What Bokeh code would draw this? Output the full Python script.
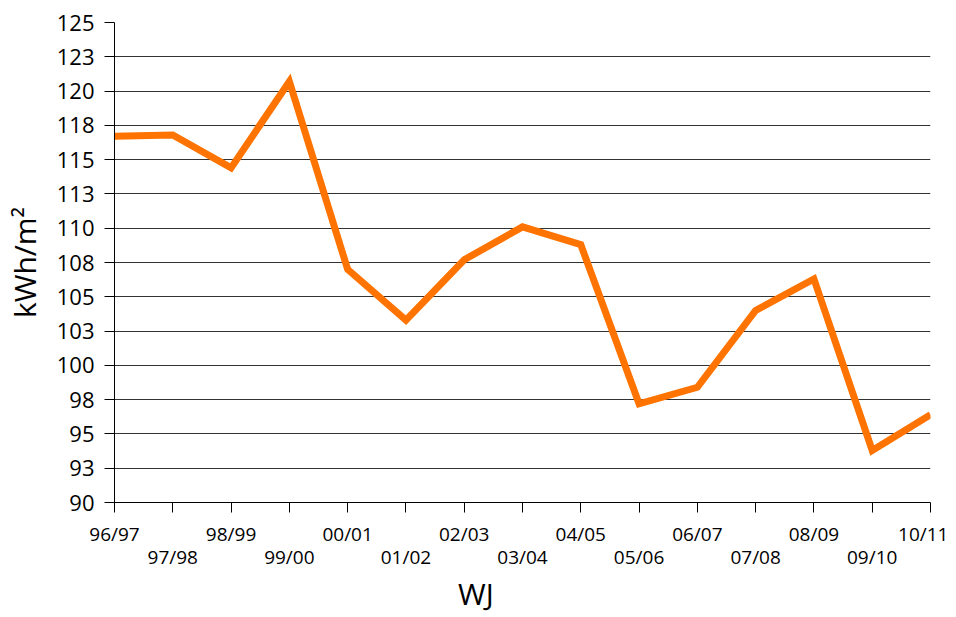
from bokeh.plotting import figure
from bokeh.models import Range1d, FixedTicker, LinearAxis
from bokeh.embed import file_html
from bokeh.resources import INLINE

# ---- data ----
years = ["96/97", "97/98", "98/99", "99/00", "00/01", "01/02", "02/03", "03/04",
         "04/05", "05/06", "06/07", "07/08", "08/09", "09/10", "10/11"]
values = [116.7, 116.8, 114.4, 120.7, 107.0, 103.3, 107.7, 110.1,
          108.8, 97.2, 98.4, 104.0, 106.3, 93.8, 96.4]
y_ticks = [90, 92.5, 95, 97.5, 100, 102.5, 105, 107.5, 110, 112.5, 115, 117.5, 120, 122.5, 125]
y_tick_labels = ["90", "93", "95", "98", "100", "103", "105", "108", "110",
                 "113", "115", "118", "120", "123", "125"]
y_title = "kWh/m²"
x_title = "WJ"

FONT = "Open Sans"
ORANGE = "#ff7300"

x_pos = list(range(len(years)))

p = figure(width=948, height=617,
           x_range=Range1d(0, len(years) - 1), y_range=Range1d(y_ticks[0], y_ticks[-1]),
           output_backend="svg", toolbar_location=None,
           x_axis_location=None,
           min_border_left=113, min_border_right=18,
           min_border_top=22, min_border_bottom=115)
p.outline_line_color = None
p.background_fill_color = "white"
p.border_fill_color = "white"

# y axis
yax = p.yaxis[0]
yax.ticker = FixedTicker(ticks=y_ticks)
yax.major_label_overrides = {t: l for t, l in zip(y_ticks, y_tick_labels)}
yax.major_tick_out = 10
yax.major_tick_in = 0
yax.minor_tick_line_color = None
yax.axis_line_color = "black"
yax.major_tick_line_color = "black"
yax.major_label_text_font = FONT
yax.major_label_text_font_size = "22px"
yax.major_label_text_color = "black"
yax.major_label_standoff = 10
yax.axis_label = y_title
yax.axis_label_text_font = FONT
yax.axis_label_text_font_size = "30px"
yax.axis_label_text_font_style = "normal"
yax.axis_label_text_color = "black"
yax.axis_label_standoff = 9

p.ygrid.ticker = FixedTicker(ticks=y_ticks)
p.ygrid.grid_line_color = "#333333"
p.ygrid.grid_line_width = 1
p.xgrid.visible = False

# x axis, row 1 (even labels, with ticks)
ax1 = LinearAxis(ticker=FixedTicker(ticks=x_pos))
ax1.major_label_overrides = {i: (years[i] if i % 2 == 0 else "") for i in x_pos}
ax1.major_tick_out = 10
ax1.major_tick_in = 0
ax1.minor_tick_line_color = None
ax1.axis_line_color = "black"
ax1.major_tick_line_color = "black"
ax1.major_label_text_font = FONT
ax1.major_label_text_font_size = "19px"
ax1.major_label_text_color = "black"
ax1.major_label_standoff = 8
p.add_layout(ax1, "below")

# x axis, row 2 (odd labels)
odd = [i for i in x_pos if i % 2 == 1]
ax2 = LinearAxis(ticker=FixedTicker(ticks=odd))
ax2.major_label_overrides = {i: years[i] for i in odd}
ax2.major_tick_out = 0
ax2.major_tick_in = 0
ax2.minor_tick_line_color = None
ax2.axis_line_color = None
ax2.major_tick_line_color = None
ax2.major_label_text_font = FONT
ax2.major_label_text_font_size = "19px"
ax2.major_label_text_color = "black"
ax2.major_label_standoff = -6
p.add_layout(ax2, "below")

# x title, as a single-label axis so it can sit left of the frame centre
ax3 = LinearAxis(ticker=FixedTicker(ticks=[6.2]))
ax3.major_label_overrides = {6.2: x_title}
ax3.major_tick_out = 0
ax3.major_tick_in = 0
ax3.minor_tick_line_color = None
ax3.axis_line_color = None
ax3.major_tick_line_color = None
ax3.major_label_text_font = FONT
ax3.major_label_text_font_size = "30px"
ax3.major_label_text_color = "black"
ax3.major_label_standoff = 0
p.add_layout(ax3, "below")

p.line(x_pos, values, line_color=ORANGE, line_width=7, line_join="miter")

open("out.html", "w").write(file_html(p, INLINE))
